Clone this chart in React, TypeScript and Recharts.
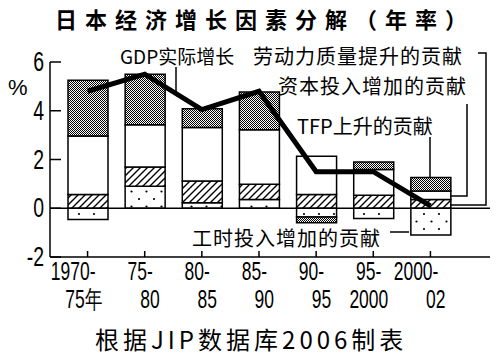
import { ComposedChart, Bar, Line, XAxis, YAxis, ReferenceLine } from 'recharts';

const periodTop = ['1970-', '75-', '80-', '85-', '90-', '95-', '2000-'];
const periodBottom = ['75年', '80', '85', '90', '95', '2000', '02'];
const laborInput = [-0.46, 0.9, 0.23, 0.36, -0.36, -0.42, -1.1];
const laborQuality = [0.56, 0.79, 0.89, 0.62, 0.56, 0.53, 0.36];
const capitalInput = [2.4, 1.74, 2.19, 2.24, 1.57, 1.06, 0.35];
const tfp = [2.29, 2.07, 0.77, 1.55, -0.23, 0.31, 0.55];
const gdp = [4.8, 5.5, 4.05, 4.8, 1.5, 1.5, 0.1];
const yTicks = [-2, 0, 2, 4, 6];

const data = periodTop.map((p, i) => ({
  period: p,
  labor: laborInput[i],
  quality: laborQuality[i],
  capital: capitalInput[i],
  tfp: tfp[i],
  gdp: gdp[i],
}));

const numFont = '"Liberation Sans", Arial, sans-serif';
const cjkFont = '"Noto Sans CJK SC", "Noto Sans", sans-serif';

function XTick(props: any) {
  const { x, y, payload, index } = props;
  return (
    <g>
      <line x1={x} x2={x} y1={y} y2={y - 6} stroke="#000" strokeWidth={1.5} />
      <text transform={`translate(${x + 8},${y + 23}) scale(0.7,1)`} textAnchor="end"
        fontFamily={numFont} fontSize={25} fill="#000">{payload.value}</text>
      <text transform={`translate(${x + 15},${y + 51}) scale(0.7,1)`} textAnchor="end"
        fontFamily={numFont} fontSize={25} fill="#000">{periodBottom[index]}</text>
    </g>
  );
}

function YTick(props: any) {
  const { x, y, payload } = props;
  return (
    <g>
      <line x1={x} x2={x + 11} y1={y} y2={y} stroke="#000" strokeWidth={1.5} />
      <text transform={`translate(${x - 6},${y + 9}) scale(0.72,1)`} textAnchor="end"
        fontFamily={numFont} fontSize={27} fill="#000">{payload.value}</text>
    </g>
  );
}

export default function App() {
  const ln = { stroke: '#000', strokeWidth: 1.5, fill: 'none' };
  return (
    <div style={{ position: 'absolute', left: 0, top: 0, width: 500, height: 360, background: '#fff' }}>
      <svg width={0} height={0} style={{ position: 'absolute' }}>
        <defs>
          <pattern id="pTfp" patternUnits="userSpaceOnUse" width={2} height={2}>
            <rect width={2} height={2} fill="#fff" />
            <rect x={0} y={0} width={1} height={1} fill="#000" />
            <rect x={1} y={1} width={1} height={1} fill="#000" />
          </pattern>
          <pattern id="pHatch" patternUnits="userSpaceOnUse" width={7} height={7}>
            <rect width={7} height={7} fill="#fff" />
            <path d="M0,7 L7,0 M-1,1 L1,-1 M6,8 L8,6" stroke="#000" strokeWidth={1.4} />
          </pattern>
          <pattern id="pDots" patternUnits="userSpaceOnUse" width={15} height={15}>
            <rect width={15} height={15} fill="#fff" />
            <circle cx={4} cy={4} r={1.1} fill="#000" />
            <circle cx={11.5} cy={11.5} r={1.1} fill="#000" />
          </pattern>
        </defs>
      </svg>
      <ComposedChart width={500} height={360} data={data} stackOffset="sign"
        margin={{ top: 62, right: 10, bottom: 43, left: 0 }}>
        <XAxis dataKey="period" height={60} padding={{ left: 9, right: 31 }}
          axisLine={{ stroke: '#000', strokeWidth: 1.5 }} tickLine={false}
          tickSize={0} tickMargin={0} tick={<XTick />} interval={0} />
        <YAxis domain={[-2, 6]} ticks={yTicks} width={50}
          axisLine={{ stroke: '#000', strokeWidth: 1.5 }} tickLine={false}
          tickSize={0} tickMargin={0} tick={<YTick />} />
        <Bar dataKey="labor" stackId="a" barSize={40} fill="url(#pDots)" stroke="#000" strokeWidth={1.5} isAnimationActive={false} />
        <Bar dataKey="quality" stackId="a" barSize={40} fill="url(#pHatch)" stroke="#000" strokeWidth={1.5} isAnimationActive={false} />
        <Bar dataKey="capital" stackId="a" barSize={40} fill="#fff" stroke="#000" strokeWidth={1.5} isAnimationActive={false} />
        <Bar dataKey="tfp" stackId="a" barSize={40} fill="url(#pTfp)" stroke="#000" strokeWidth={1.5} isAnimationActive={false} />
        <ReferenceLine y={0} stroke="#000" strokeWidth={1.5} />
        <Line dataKey="gdp" type="linear" stroke="#000" strokeWidth={5} dot={false} activeDot={false} isAnimationActive={false} />
      </ComposedChart>
      <svg width={500} height={360} style={{ position: 'absolute', left: 0, top: 0, pointerEvents: 'none' }}>
        <text x={55} y={28} fontFamily={cjkFont} fontSize={22} fontWeight="bold" letterSpacing={8} fill="#000">日本经济增长因素分解（年率）</text>
        <text x={8} y={95} fontFamily={numFont} fontSize={22} fill="#000">%</text>
        <g fontFamily={cjkFont} fontSize={20} fill="#000">
          <text x={120} y={64} fontSize={19}>GDP实际增长</text>
          <text x={253} y={64} letterSpacing={1}>劳动力质量提升的贡献</text>
          <text x={278} y={94} letterSpacing={1}>资本投入增加的贡献</text>
          <text x={297} y={134}>TFP上升的贡献</text>
          <text x={192} y={246} letterSpacing={1}>工时投入增加的贡献</text>
        </g>
        <polyline points="176,67 176,92" {...ln} />
        <polyline points="478,53 486,53 486,205 450,205" {...ln} />
        <polyline points="467,104 467,196 450,196" {...ln} />
        <polyline points="430,137 430,177" {...ln} />
        <polyline points="390,232 409,232" {...ln} />
        <text x={95} y={349} fontFamily={cjkFont} fontSize={24} letterSpacing={4} fill="#000">根据JIP数据库2006制表</text>
      </svg>
    </div>
  );
}
